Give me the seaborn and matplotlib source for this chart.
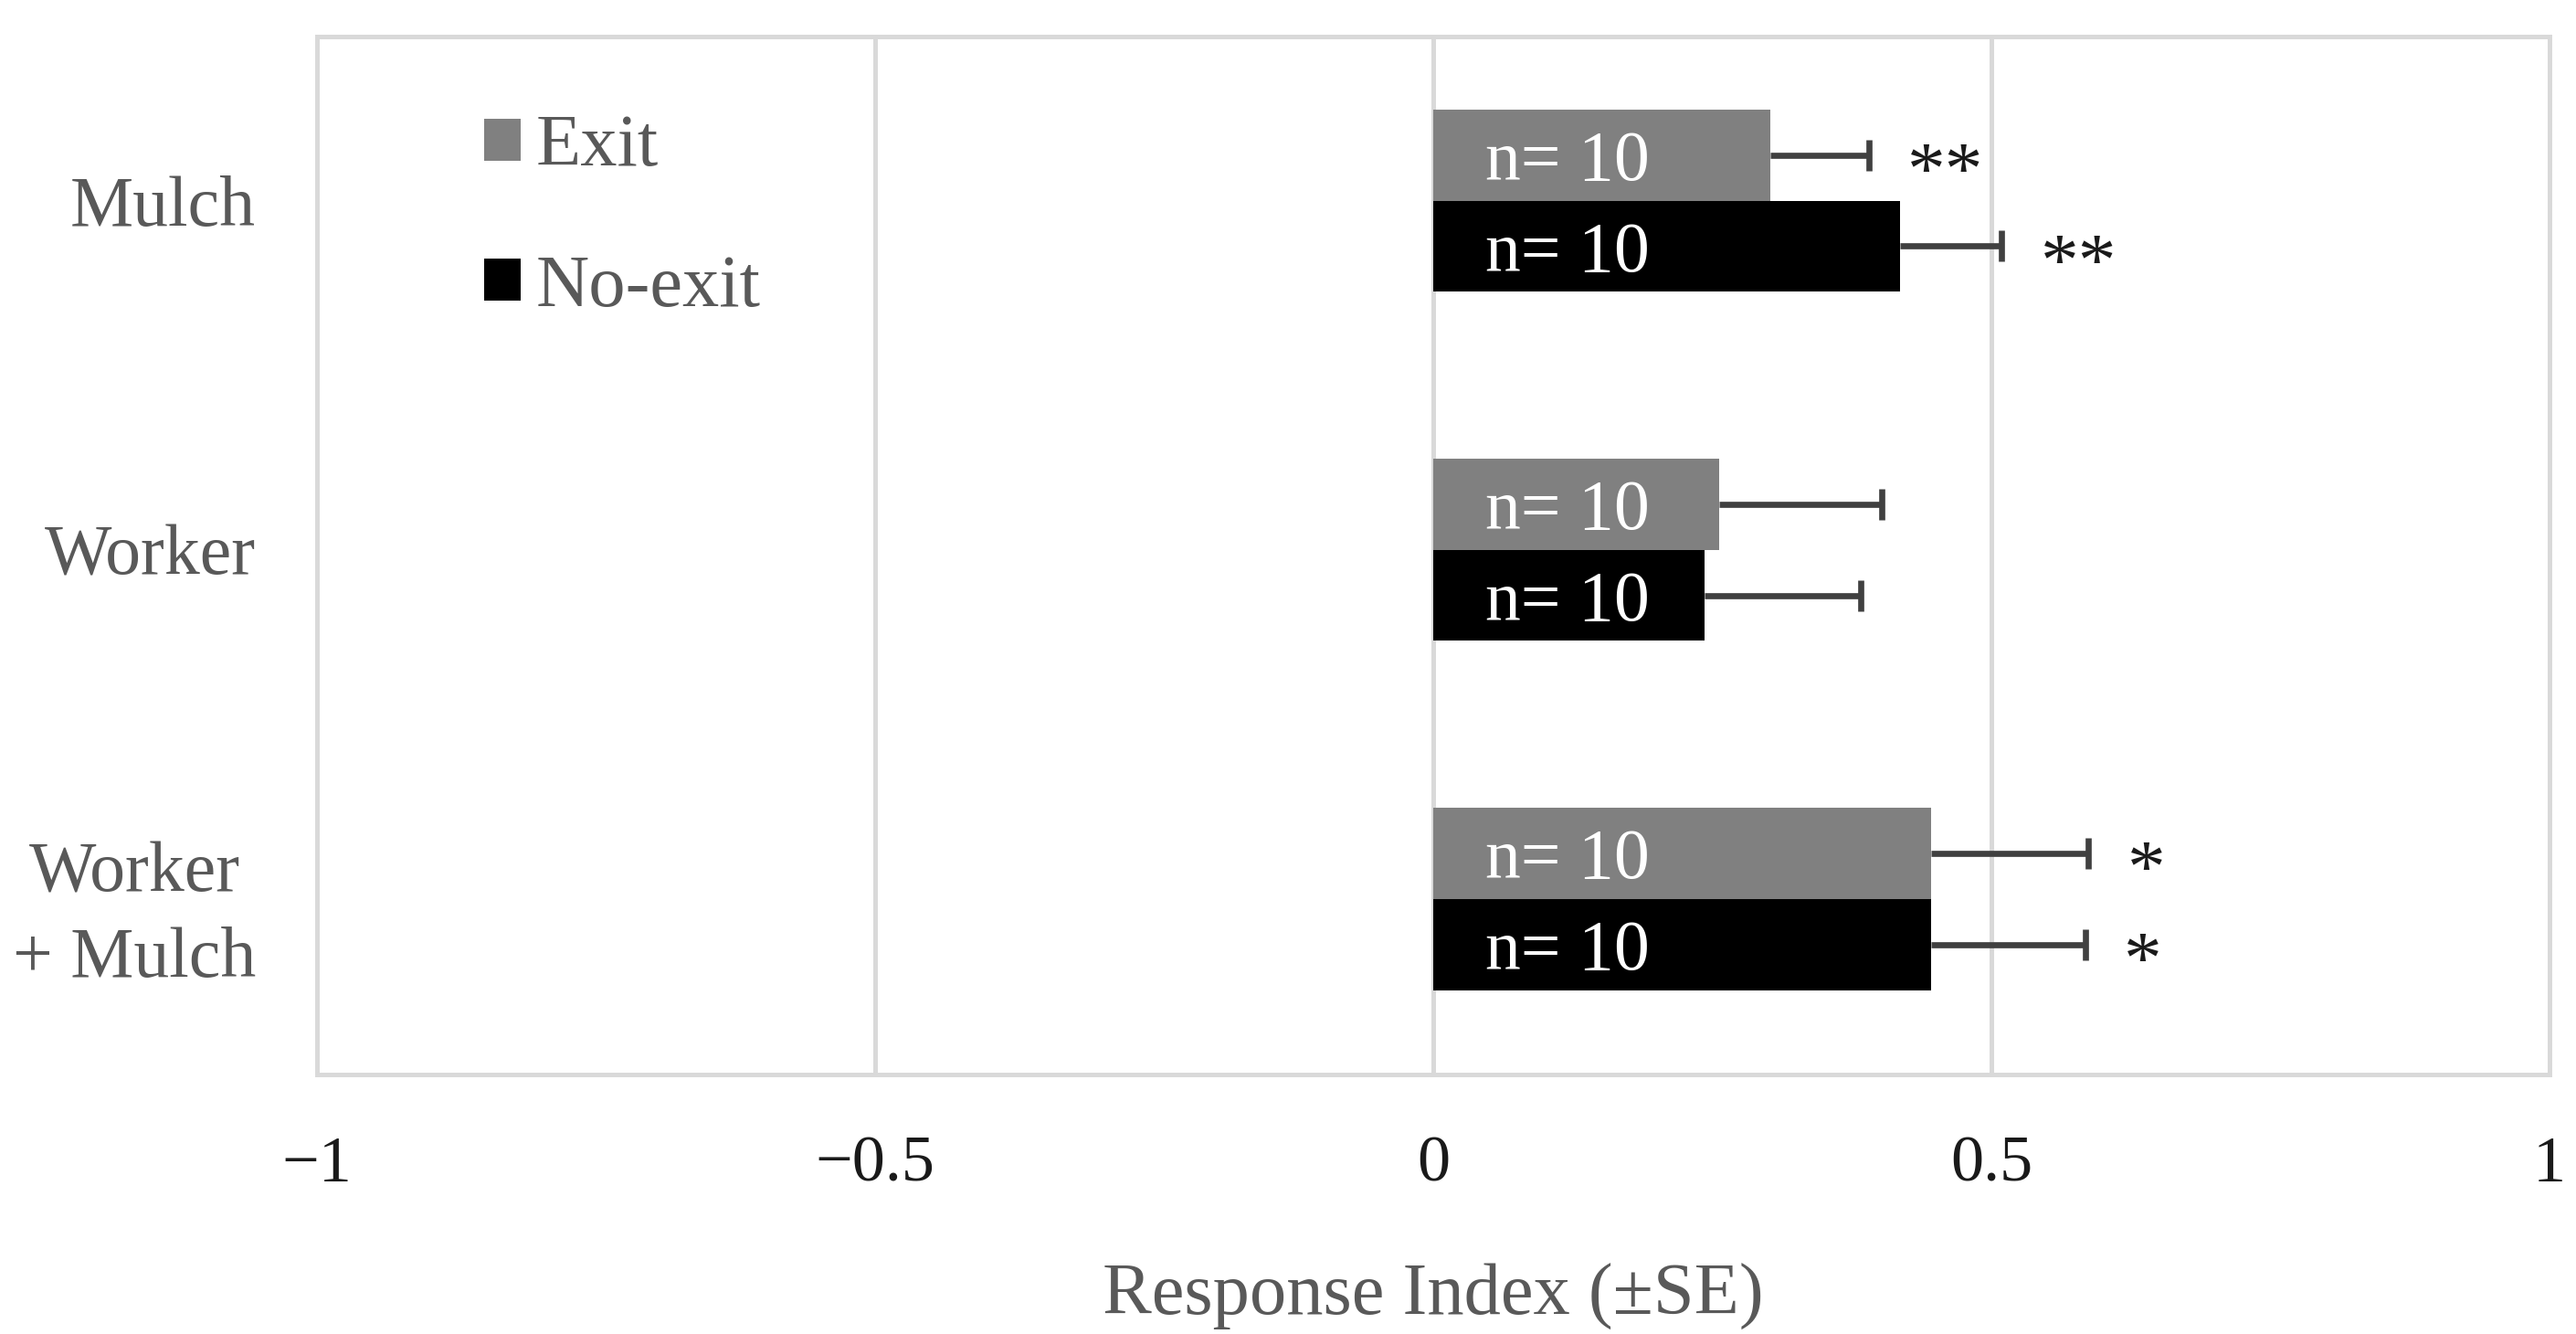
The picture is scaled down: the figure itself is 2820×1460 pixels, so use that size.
import numpy as np
import pandas as pd
import matplotlib
matplotlib.use("Agg")
import matplotlib.pyplot as plt
import seaborn as sns

# ---- data ----
categories = ["Mulch", "Worker", "Worker\n+ Mulch"]
groups = ["Exit", "No-exit"]
exit_vals = [0.302, 0.256, 0.446]
exit_se = [0.088, 0.146, 0.141]
noexit_vals = [0.418, 0.243, 0.446]
noexit_se = [0.091, 0.140, 0.138]
exit_n = ["n= 10", "n= 10", "n= 10"]
noexit_n = ["n= 10", "n= 10", "n= 10"]
exit_sig = ["**", "", "*"]
noexit_sig = ["**", "", "*"]
xtick_vals = [-1, -0.5, 0, 0.5, 1]
xtick_labels = ["\u22121", "\u22120.5", "0", "0.5", "1"]
x_label = "Response Index (\u00b1SE)"
colors = {"Exit": "#808080", "No-exit": "#000000"}

df = pd.DataFrame({
    "category": categories * 2,
    "group": ["Exit"] * 3 + ["No-exit"] * 3,
    "value": exit_vals + noexit_vals,
})
se_by_group = {"Exit": exit_se, "No-exit": noexit_se}
n_by_group = {"Exit": exit_n, "No-exit": noexit_n}
sig_by_group = {"Exit": exit_sig, "No-exit": noexit_sig}

sns.set_style("white")
FONT = ["Liberation Serif", "DejaVu Serif"]
plt.rcParams["font.family"] = FONT

fig = plt.figure(figsize=(14.1, 7.3), dpi=200)
ax = fig.add_axes([0.123, 0.1945, 0.8667, 0.7781])

sns.barplot(data=df, y="category", x="value", hue="group", hue_order=groups,
            order=categories, palette=colors, orient="h", errorbar=None,
            width=0.522, linewidth=0, saturation=1, ax=ax, legend=True)

FS = 28
for container, g in zip(ax.containers, groups):
    ys, xs = [], []
    for bar in container:
        ys.append(bar.get_y() + bar.get_height() / 2)
        xs.append(bar.get_width())
    ses = np.array(se_by_group[g])
    xs = np.array(xs)
    ys = np.array(ys)
    ax.errorbar(xs, ys, xerr=[np.zeros(len(ses)), ses], fmt="none",
                ecolor="#404040", elinewidth=2.4, capsize=0, zorder=3)
    ax.plot(xs + ses, ys, linestyle="none", marker="|", markersize=12.5,
            markeredgewidth=2.4, color="#404040", zorder=3)
    for x, y, se, nlab, sig in zip(xs, ys, ses, n_by_group[g], sig_by_group[g]):
        ax.text(0.047, y, nlab, color="white", fontsize=FS,
                ha="left", va="center_baseline", zorder=4)
        if sig:
            ax.text(x + se + 0.035, y + 0.035, sig, color="#1a1a1a",
                    fontsize=FS + 2, ha="left", va="center_baseline",
                    zorder=4)

ax.set_xlim(-1, 1)
ax.set_ylim(2.503, -0.47)
ax.set_xticks(xtick_vals)
ax.set_xticklabels(xtick_labels, fontsize=26, color="#1a1a1a")
ax.set_ylabel("")
ax.set_xlabel(x_label, fontsize=29, color="#595959", labelpad=27)
ax.tick_params(axis="x", length=0, pad=24)
ax.tick_params(axis="y", length=0, pad=24)
for lbl in ax.get_yticklabels():
    lbl.set_fontsize(FS)
    lbl.set_color("#595959")
    lbl.set_multialignment("center")
    lbl.set_linespacing(1.4)

ax.grid(False)
for xv in [-0.5, 0, 0.5]:
    ax.axvline(xv, color="#d9d9d9", lw=1.8, zorder=0)
for s in ax.spines.values():
    s.set_color("#d9d9d9")
    s.set_linewidth(1.8)
    s.set_visible(True)

leg = ax.legend(loc="upper left", bbox_to_anchor=(0.075, 0.925), frameon=False,
                fontsize=29, handlelength=0.5, handleheight=0.5,
                handletextpad=0.2, labelspacing=1.0, borderpad=0,
                borderaxespad=0)
for t in leg.get_texts():
    t.set_color("#595959")

fig.savefig("out.png", dpi=200)
